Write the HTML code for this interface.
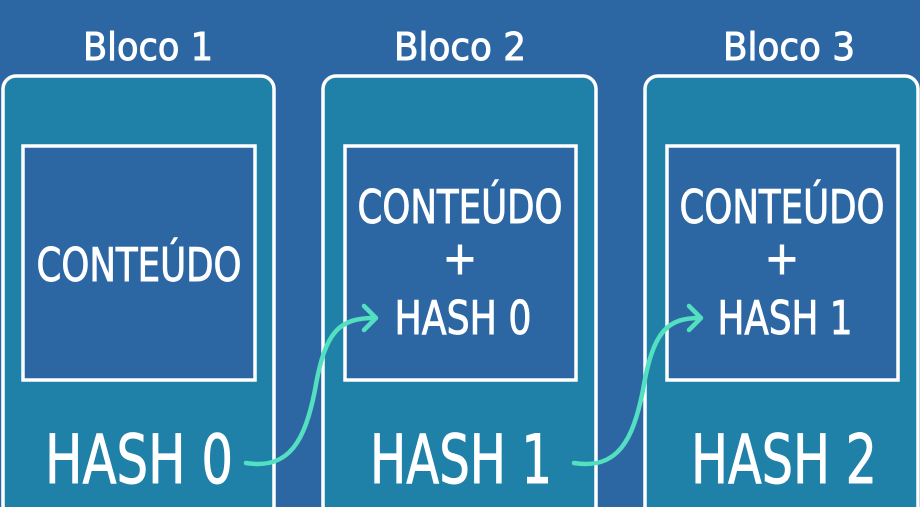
<!DOCTYPE html>
<html><head><meta charset="utf-8"><style>
html,body{margin:0;padding:0;background:#2c67a4;width:920px;height:507px;overflow:hidden;}
svg{display:block}
text{font-family:"Liberation Sans Narrow","DejaVu Sans Condensed","Liberation Sans",sans-serif;fill:#fff;stroke:#fff;stroke-width:0.9;}
</style></head><body>
<svg width="920" height="507" viewBox="0 0 920 507">
<rect width="920" height="507" fill="#2c67a4"/>
<g stroke="#fff" stroke-width="3.5">
<rect x="3" y="76" width="271" height="460" rx="13" fill="#1f80a8"/>
<rect x="323" y="76" width="273" height="460" rx="13" fill="#1f80a8"/>
<rect x="645" y="76" width="273" height="460" rx="13" fill="#1f80a8"/>
<rect x="23" y="146" width="232" height="234" fill="#2c67a4"/>
<rect x="345" y="146" width="231" height="234" fill="#2c67a4"/>
<rect x="667" y="146" width="231" height="234" fill="#2c67a4"/>
</g>
<g text-anchor="middle">
<text x="148" y="60" font-size="38" textLength="130" lengthAdjust="spacingAndGlyphs">Bloco 1</text>
<text x="460" y="60" font-size="38" textLength="132" lengthAdjust="spacingAndGlyphs">Bloco 2</text>
<text x="789" y="60" font-size="38" textLength="132" lengthAdjust="spacingAndGlyphs">Bloco 3</text>
<text x="139" y="281" font-size="46" textLength="205" lengthAdjust="spacingAndGlyphs">CONTEÚDO</text>
<text x="460" y="223" font-size="46" textLength="205" lengthAdjust="spacingAndGlyphs">CONTEÚDO</text>
<text x="460" y="274" font-size="46">+</text>
<text x="463" y="334" font-size="46" textLength="137" lengthAdjust="spacingAndGlyphs">HASH 0</text>
<text x="782" y="223" font-size="46" textLength="205" lengthAdjust="spacingAndGlyphs">CONTEÚDO</text>
<text x="782" y="274" font-size="46">+</text>
<text x="785" y="334" font-size="46" textLength="135" lengthAdjust="spacingAndGlyphs">HASH 1</text>
<text x="139" y="483" font-size="68" textLength="188" lengthAdjust="spacingAndGlyphs">HASH 0</text>
<text x="461" y="483" font-size="68" textLength="182" lengthAdjust="spacingAndGlyphs">HASH 1</text>
<text x="784" y="483" font-size="68" textLength="186" lengthAdjust="spacingAndGlyphs">HASH 2</text>
</g>
<g fill="none" stroke="#52e0c0" stroke-width="4.5" stroke-linecap="round" stroke-linejoin="round">
<path d="M246 463 C290 470 305 440 315 390 C325 330 340 318 375 318"/>
<path d="M364 306 L376 318 L364 330"/>
<path d="M574 463 C618 470 633 440 643 390 C653 330 668 318 700 318"/>
<path d="M689 306 L701 318 L689 330"/>
</g>
</svg>
</body></html>
